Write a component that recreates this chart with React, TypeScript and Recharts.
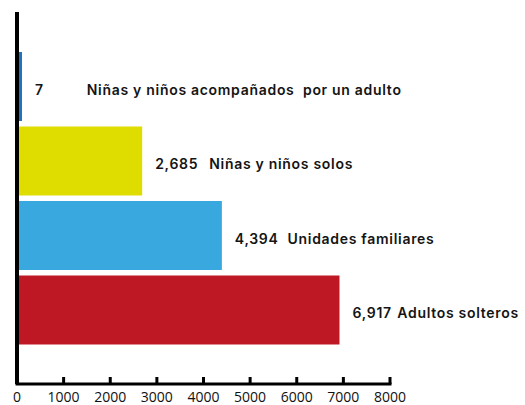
import React from "react";
import { BarChart, Bar, XAxis, YAxis, Cell, LabelList } from "recharts";

const categories = [
  "Niñas y niños acompañados  por un adulto",
  "Niñas y niños solos",
  "Unidades familiares",
  "Adultos solteros",
];
const values = [7, 2685, 4394, 6917];
const barColors = ["#1F74BE", "#DFDC00", "#38A8DF", "#BD1824"];
const xTicks = [0, 1000, 2000, 3000, 4000, 5000, 6000, 7000, 8000];

const data = categories.map((c, i) => ({ category: c, value: values[i] }));

const LABEL_GAPS = [43, 11, 9, 7];

const renderLabel = (props: any) => {
  const { x, y, width, height, value, index } = props;
  const cat = categories[index];
  return (
    <text
      x={Number(x) + Number(width) + 13}
      y={Number(y) + Number(height) / 2 + 2}
      dominantBaseline="central"
      fontFamily="Inter, sans-serif"
      fontWeight={600}
      fontSize={14}
      letterSpacing={0.7}
      fill="#141414"
      style={{ whiteSpace: "pre" }}
    >
      <tspan>{Number(value).toLocaleString("en-US")}</tspan>
      <tspan dx={LABEL_GAPS[index]}>{cat}</tspan>
    </text>
  );
};

const renderTick = (props: any) => {
  const { x, y, payload } = props;
  return (
    <g>
      <line x1={x} x2={x} y1={y - 7} y2={y} stroke="#000" strokeWidth={3} />
      <text
        x={x}
        y={y + 18}
        textAnchor="middle"
        fontFamily="'Open Sans', sans-serif"
        fontSize={14}
        fill="#111"
      >
        {payload.value}
      </text>
    </g>
  );
};

export default function App() {
  return (
    <div style={{ position: "absolute", left: 0, top: 0, width: 525, height: 405, background: "#fff" }}>
      <BarChart
        width={525}
        height={405}
        data={data}
        layout="vertical"
        margin={{ top: 12, right: 135, left: 16, bottom: 0 }}
      >
        <XAxis
          type="number"
          domain={[0, 8000]}
          ticks={xTicks}
          interval={0}
          height={21}
          tickSize={0}
          tickMargin={0}
          tickLine={false}
          axisLine={{ stroke: "#000", strokeWidth: 3, strokeLinecap: "square" }}
          tick={renderTick}
        />
        <YAxis
          type="category"
          dataKey="category"
          width={1}
          padding={{ top: 37, bottom: 37 }}
          tick={false}
          tickLine={false}
          axisLine={{ stroke: "#000", strokeWidth: 4 }}
        />
        <Bar dataKey="value" barSize={69} minPointSize={5} isAnimationActive={false}>
          {data.map((d, i) => (
            <Cell key={d.category} fill={barColors[i]} />
          ))}
          <LabelList dataKey="value" content={renderLabel} />
        </Bar>
      </BarChart>
    </div>
  );
}
